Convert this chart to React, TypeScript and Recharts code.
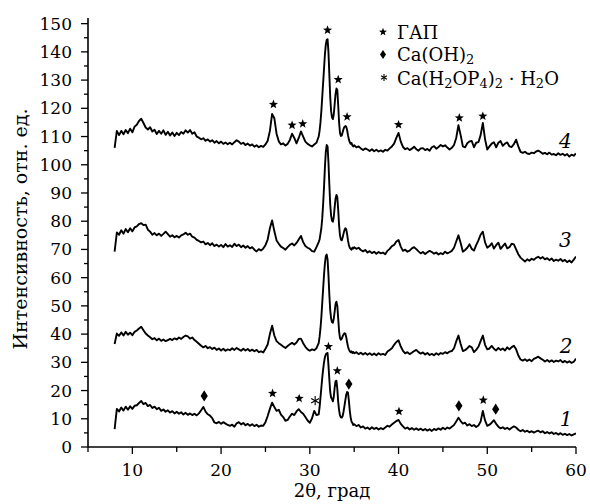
import React from 'react';
import { LineChart, Line, XAxis, YAxis, ReferenceDot, Customized, Label } from 'recharts';

if (typeof document !== 'undefined') document.body.style.margin = '0';

const FONT = '"DejaVu Serif", "Liberation Serif", serif';

// 2θ grid shared by all four patterns (deg)
const TWO_THETA = [
  8, 8.25, 8.5, 8.75, 9, 9.25, 9.5, 9.75,
  10, 10.25, 10.5, 10.75, 11, 11.25, 11.5, 11.75,
  12, 12.25, 12.5, 12.75, 13, 13.25, 13.5, 13.75,
  14, 14.25, 14.5, 14.75, 15, 15.25, 15.5, 15.75,
  16, 16.25, 16.5, 16.75, 17, 17.25, 17.5, 17.75,
  18, 18.25, 18.5, 18.75, 19, 19.25, 19.5, 19.75,
  20, 20.25, 20.5, 20.75, 21, 21.25, 21.5, 21.75,
  22, 22.25, 22.5, 22.75, 23, 23.25, 23.5, 23.75,
  24, 24.25, 24.5, 24.75, 25, 25.25, 25.5, 25.75,
  26, 26.25, 26.5, 26.75, 27, 27.25, 27.5, 27.75,
  28, 28.25, 28.5, 28.75, 29, 29.25, 29.5, 29.75,
  30, 30.25, 30.5, 30.75, 31,
  31.1, 31.2, 31.3, 31.4, 31.5, 31.6, 31.7, 31.8, 31.9,
  32, 32.1, 32.2, 32.3, 32.4, 32.5, 32.6, 32.7, 32.8, 32.9,
  33, 33.1, 33.2, 33.3, 33.4, 33.5, 33.6, 33.7, 33.8, 33.9,
  34, 34.1, 34.2, 34.3, 34.4, 34.5, 34.6, 34.7, 34.8, 34.9, 35,
  35.25, 35.5, 35.75,
  36, 36.25, 36.5, 36.75, 37, 37.25, 37.5, 37.75,
  38, 38.25, 38.5, 38.75, 39, 39.25, 39.5, 39.75,
  40, 40.25, 40.5, 40.75, 41, 41.25, 41.5, 41.75,
  42, 42.25, 42.5, 42.75, 43, 43.25, 43.5, 43.75,
  44, 44.25, 44.5, 44.75, 45, 45.25, 45.5, 45.75,
  46, 46.25, 46.5, 46.75, 47, 47.25, 47.5, 47.75,
  48, 48.25, 48.5, 48.75, 49, 49.25, 49.5, 49.75,
  50, 50.25, 50.5, 50.75, 51, 51.25, 51.5, 51.75,
  52, 52.25, 52.5, 52.75, 53, 53.25, 53.5, 53.75,
  54, 54.25, 54.5, 54.75, 55, 55.25, 55.5, 55.75,
  56, 56.25, 56.5, 56.75, 57, 57.25, 57.5, 57.75,
  58, 58.25, 58.5, 58.75, 59, 59.25, 59.5, 59.75,
  60,
];

// intensity, curve 1 (bottom)
const TRACE_1 = [
  6.3, 13.5, 12.6, 14, 12.9, 14.3, 13.2, 14.4,
  13.5, 14.6, 14.8, 15.6, 16.3, 15.2, 15.6, 14.5,
  14.9, 13.8, 14.3, 13.4, 13.9, 12.8, 13.3, 12.5,
  13, 12.2, 12.7, 11.9, 12.5, 11.8, 12.3, 11.5,
  12.1, 11.4, 11.9, 11.3, 11.8, 11.2, 11.9, 13,
  14.2, 12.5, 11.6, 11.1, 10.2, 8.7, 8.4, 8.9,
  8.2, 8.8, 8.3, 7.8, 7.5, 7.9, 7.2, 8.4,
  8.8, 8, 8.5, 7.7, 8.2, 7.5, 8.1, 7.4,
  7.9, 7.2, 7.6, 7.5, 8.8, 11, 13.5, 15.7,
  14.2, 12.8, 13.2, 11.5, 10.6, 9.3, 9.6, 10.8,
  11.8, 11.3, 12.6, 13.4, 12.4, 11.8, 10.6, 9.4,
  8.6, 10.2, 12.8, 11.3, 11.6,
  14, 17.5, 21, 24.5, 27.5, 30, 31.8, 32.8, 33.2,
  33.3, 29, 24, 19.5, 17.5, 17, 16.2, 17.8, 21, 23.3,
  23.5, 20.5, 16, 13, 11.2, 10.5, 10.4, 11, 12.5, 14.5,
  16.5, 18.5, 19.5, 19.3, 16.5, 13, 10.5, 9, 8.5, 7.8, 8.1,
  7.4, 7.8, 6.9,
  7.3, 6.5, 6.9, 6.3, 7, 6.4, 6.8, 6.2,
  6.7, 6.3, 6.9, 7.5, 7.2, 8, 8.6, 9.2,
  9.6, 8.2, 7.3, 6.5, 6.9, 6.2, 6.7, 6.1,
  6.6, 6, 6.5, 5.9, 6.4, 5.8, 6.3, 5.7,
  6.4, 6, 6.6, 6.1, 6.8, 6.3, 6.9, 6.5,
  7.2, 7.8, 9, 10.4, 9.2, 8.3, 8.6, 7.6,
  8.1, 7.4, 7.8, 7.1, 7.6, 9, 12.8, 9.4,
  7.5, 7.9, 8.6, 9.5, 8.2, 7.2, 6.6, 7,
  6.4, 6.8, 6.2, 6.8, 7.3, 6.9, 6.1, 5.6,
  6, 5.4, 5.8, 5.2, 5.6, 5.1, 5.5, 5.8,
  5.2, 5.6, 4.9, 5.3, 4.8, 5.2, 4.6, 5,
  4.4, 4.9, 4.3, 4.7, 4.2, 4.6, 4.1, 4.5,
  4.8,
];

const TRACE_2 = [
  36.5, 40.2, 39.4, 40.6, 39.5, 40.8, 39.8, 40.5,
  39.6, 40.8, 41.3, 42, 42.6, 41.4, 40.2, 39.5,
  38.9, 38.2, 38.6, 37.8, 38.4, 37.6, 38.1, 37.5,
  37.9, 38.3, 37.9, 38.5, 38.1, 38.8, 38.3, 39,
  39.5, 39.2, 38.4, 38.8, 37.9, 37.3, 36.6, 35.9,
  35.3, 35.8, 35, 35.4, 34.7, 35.2, 34.4, 34.9,
  34.2, 34.8, 34.1, 34.6, 34.3, 35, 34.4, 35.1,
  34.6, 34.1, 34.8, 34.2, 34.7, 34, 34.5, 33.9,
  34.4, 33.6, 33.9, 33.5, 34.8, 36.3, 40, 43,
  39.5, 37.5, 36.8, 36.2, 35.6, 35.1, 35.8, 36.4,
  36.9, 36.3, 37, 38.3, 38.4, 36.8, 35.5, 34.6,
  34.1, 34.6, 34.3, 35, 36.8,
  39, 42, 46, 51, 56, 61, 65, 67.5, 68.2,
  66.5, 61, 54, 48.5, 45.5, 44.2, 44, 45.5, 48, 50.6,
  51.5, 50, 45.5, 41, 38.6, 38, 38.4, 39.2, 39.9, 40.3,
  40.2, 39, 37.2, 35.6, 34.6, 34, 33.6, 33.9, 33.3, 33.7, 33.2,
  33.6, 32.9, 33.4,
  32.8, 33.3, 32.7, 33.2, 32.6, 33.1, 32.5, 33.2,
  32.7, 33, 32.6, 33.8, 34.4, 35, 36.2, 37.2,
  37.8, 35.6, 34.1, 33.2, 33.6, 32.9, 33.4, 34,
  34.4, 33.6, 33.1, 33.5, 32.8, 33.3, 32.6, 33,
  32.5, 33.2, 32.7, 33.3, 33, 33.6, 33.2, 33.8,
  34, 35, 37.4, 39.5, 36.5, 34, 34.3, 35,
  35.8, 35.3, 33.6, 34.4, 35.5, 37.5, 39.5, 36.2,
  34.6, 34.9, 35.8, 34.8, 34.2, 35.1, 34.4, 34.9,
  34.2, 35.3, 34.6, 35.4, 35.9, 34.6, 32.4, 31,
  30.6, 31.1, 30.5, 31, 30.4, 31.2, 31.6, 32,
  31.4, 30.9, 30.3, 30.8, 30.2, 30.7, 30.1, 30.6,
  30.3, 30.8, 30, 30.5, 29.9, 30.4, 29.8, 30.2,
  31.3,
];

const TRACE_3 = [
  69.2, 76, 75.2, 76.8, 75.6, 77.2, 76.1, 77.5,
  76.4, 77.8, 78.2, 79, 79.3, 78.6, 78.8, 77,
  76.3, 75.2, 75.8, 75, 75.6, 74.8, 75.5, 76.3,
  75.4, 74.5, 75, 74.3, 74.8, 74.2, 75, 75.3,
  75.9, 75.2, 75.6, 74.5, 74.2, 73.4, 73, 72.5,
  72.8, 71.8, 72.3, 71.5, 72.2, 71.2, 71.7, 71,
  71.6, 70.8, 71.9, 71, 71.5, 70.9, 72, 71.2,
  71.7, 70.8, 71.4, 70.6, 71.2, 70.4, 70.8, 69.9,
  69.3, 70.1, 69.6, 70.3, 71.5, 73.5, 77.5, 80.3,
  76.5, 73.2, 72, 71, 70.5, 69.9, 70.8, 71.6,
  72.1, 71.4, 72.3, 73.5, 74.8, 72.6, 71.2, 70.6,
  70.2, 69.4, 69.2, 70.8, 72.6,
  73.5, 75.5, 77.5, 81, 86, 92, 99, 104.5, 107,
  106.5, 101, 93, 86, 82, 80.2, 79.8, 81.5, 85, 88,
  89.3, 88.5, 84, 78.5, 75, 73.5, 73.2, 74.2, 75.6, 76.8,
  77.5, 77.2, 75.5, 73.2, 71.6, 70.6, 70.2, 69.9, 70.6, 70.3, 70.8,
  70.2, 70.6, 69.8,
  69.3, 69.8, 68.9, 69.4, 68.7, 69.2, 68.5, 69.1,
  68.6, 68.9, 68.3, 69.5, 70.2, 71.2, 71.6, 72.8,
  73.3, 71, 69.5, 69.9, 69.2, 69.6, 70.4, 70.8,
  70.1, 69.3, 68.6, 69.1, 68.4, 69, 69.5, 69.1,
  68.5, 68.9, 68.2, 68.7, 68.3, 69.2, 68.6, 69,
  69.5, 70.6, 72.8, 75, 72.3, 69.2, 69.8, 70.6,
  71.8, 70.2, 69.6, 71.5, 73.2, 75.2, 76.3, 72.5,
  70.6, 71.2, 72.2, 70.3, 71.5, 72.4, 70.2, 71.2,
  72.1, 70.4, 70.8, 72, 71.8, 70, 68.3, 67.1,
  66.4, 65.7, 66.5, 66, 66.7, 66.3, 67, 67.4,
  66.8, 67.3, 66.5, 66.9, 66.2, 66.8, 65.9, 66.4,
  66, 66.6, 65.8, 66.3, 65.5, 66.1, 65.4, 66.4,
  67.5,
];

const TRACE_4 = [
  106, 112, 110.5, 112, 110.8, 112.3, 111.2, 112.8,
  111.5, 113.5, 114.2, 115.5, 116.3, 114.8, 113.2, 112.5,
  113.3, 111.8, 112.4, 110.9, 112, 111, 112.2, 110.6,
  111.7, 110.4, 111.4, 110.2, 111.3, 110.5, 111.6, 111,
  112.2, 111.4, 112.3, 111, 111.5, 110, 109.6, 109,
  109.4, 108.5, 109, 108.2, 108.7, 107.8, 108.4, 107.6,
  108.2, 107.4, 107.9, 107.3, 107.8, 107.2, 108, 108.7,
  108.2, 107.4, 107.8, 107, 107.5, 106.8, 107.2, 106.4,
  106.9, 106.2, 106.7, 106.3, 107.2, 108.5, 112, 118,
  116.5, 111, 108.3, 107.2, 107.6, 106.8, 107.4, 108.8,
  111, 109.5, 107.6, 109.5, 111.8, 110, 108.2, 107.4,
  106.9, 106.5, 107.2, 107.8, 110,
  112, 115, 119, 124, 129, 134, 139, 142.5, 144.2,
  144.5, 140, 132, 124, 119, 116.8, 116.2, 117.8, 121.5, 125,
  127, 126.5, 121, 115, 111.3, 110.2, 110.4, 111.5, 112.7, 113.4,
  113.7, 113.5, 112.4, 110.5, 109, 108, 107.4, 107.7, 106.9, 106.5, 106.9,
  106.2, 106.5, 105.8,
  105.2, 105.8, 105.4, 104.9, 105.5, 104.8, 105.3, 104.7,
  105.1, 104.6, 105.3, 105, 105.8, 106.5, 107.5, 109.5,
  111.3, 108.2, 106.3, 105.5, 105.9, 105.2, 105.7, 106.4,
  105.5, 105, 105.8, 105.9, 105.2, 105.6, 105, 106.2,
  106.6, 105.7, 106.3, 107, 106.5, 106.9, 106.1, 105.4,
  106, 107, 109.5, 114, 110.5, 106.5, 106.2, 107.6,
  108.3, 108.4, 106.2, 107.8, 108, 110.5, 114.8, 109,
  105.4, 106.5, 107.5, 108, 106.2, 107.8, 108.4, 106.7,
  107.5, 107.9, 106.5, 106.3, 107.3, 108.9, 106.5, 104.6,
  104.2, 104.6, 104, 103.8, 104.3, 104.1, 104.7, 105,
  104.5, 103.9, 104.2, 103.7, 104.3, 103.6, 103.8, 103.4,
  104.1, 103.5, 103.9, 103.3, 103.8, 102.9, 103.6, 103.2,
  104,
];

// phase markers: position (2θ) and height (intensity units)
const HAP_X = [25.9, 28.0, 29.2, 32.0, 33.2, 34.2, 40.0, 46.85, 49.5, 25.8, 28.8, 32.1, 33.1, 40.05, 49.55];
const HAP_Y = [121.4, 114, 114.5, 147.7, 130.2, 117, 114.2, 116.6, 117.2, 19, 17.2, 35.6, 27, 12.6, 16.6];
const CAOH_X = [18.1, 34.4, 46.8, 50.95];
const CAOH_Y = [18.1, 22.3, 14.6, 13.4];
const MCP_X = [30.6];
const MCP_Y = [16.4];

const CURVE_NAMES = ['1', '2', '3', '4'];
const CURVE_NAME_X = [58.9, 58.9, 58.8, 58.8];
const CURVE_NAME_Y = [10, 35.9, 73.3, 108.3];

const Y_TICKS = [0, 5, 10, 15, 20, 25, 30, 35, 40, 45, 50, 55, 60, 65, 70, 75, 80, 85, 90, 95, 100, 105, 110, 115, 120, 125, 130, 135, 140, 145, 150];
const X_TICKS = [5, 10, 15, 20, 25, 30, 35, 40, 45, 50, 55, 60];

const TRACES = [TRACE_1, TRACE_2, TRACE_3, TRACE_4];

function starPath(cx: number, cy: number, R: number) {
  const r = R * 0.42;
  let d = '';
  for (let i = 0; i < 10; i++) {
    const a = -Math.PI / 2 + (i * Math.PI) / 5;
    const rr = i % 2 === 0 ? R : r;
    d += (i === 0 ? 'M' : 'L') + (cx + rr * Math.cos(a)).toFixed(2) + ',' + (cy + rr * Math.sin(a)).toFixed(2);
  }
  return d + 'Z';
}

const Star = ({ cx, cy, R = 4.8 }: any) => <path d={starPath(cx, cy, R)} fill="#000" />;
const Diamond = ({ cx, cy, w = 3.6, h = 5.6 }: any) => (
  <path d={`M${cx},${cy - h}L${cx + w},${cy}L${cx},${cy + h}L${cx - w},${cy}Z`} fill="#000" />
);
const Asterisk = ({ cx, cy, R = 4.6 }: any) => (
  <g stroke="#000" strokeWidth={1.1}>
    {[90, 30, 150].map((deg) => {
      const a = (deg * Math.PI) / 180;
      return (
        <line key={deg} x1={cx - R * Math.cos(a)} y1={cy - R * Math.sin(a)} x2={cx + R * Math.cos(a)} y2={cy + R * Math.sin(a)} />
      );
    })}
  </g>
);

const YTick = ({ x, y, payload }: any) => {
  const major = payload.value % 10 === 0;
  return (
    <g>
      <line x1={x - (major ? 7 : 4)} x2={x} y1={y} y2={y} stroke="#000" strokeWidth={1.3} />
      {major && (
        <text x={x - 16} y={y} dy={6} textAnchor="end" fontSize={17} fontFamily={FONT} fill="#000">
          {payload.value}
        </text>
      )}
    </g>
  );
};

const XTick = ({ x, y, payload }: any) => {
  const major = payload.value % 10 === 0;
  return (
    <g>
      <line x1={x} x2={x} y1={y} y2={y + (major ? 7 : 5)} stroke="#000" strokeWidth={1.3} />
      {major && (
        <text x={x} y={y + 29} textAnchor="middle" fontSize={17} fontFamily={FONT} fill="#000">
          {payload.value}
        </text>
      )}
    </g>
  );
};

const LegendBlock = () => (
  <g fontFamily={FONT} fontSize={18} fill="#000">
    <Star cx={383} cy={32} R={4.2} />
    <text x={397} y={39}>ГАП</text>
    <Diamond cx={383} cy={54.5} w={3} h={4.6} />
    <text x={397} y={61}>
      Ca(OH)<tspan dy={3} fontSize={13}>2</tspan>
    </text>
    <Asterisk cx={384} cy={77.5} R={3.4} />
    <text x={397} y={84.5}>
      Ca(H<tspan dy={3} fontSize={13}>2</tspan>
      <tspan dy={-3}>OP</tspan>
      <tspan dy={3} fontSize={13}>4</tspan>
      <tspan dy={-3}>)</tspan>
      <tspan dy={3} fontSize={13}>2</tspan>
      <tspan dy={-3}> · H</tspan>
      <tspan dy={3} fontSize={13}>2</tspan>
      <tspan dy={-3}>O</tspan>
    </text>
  </g>
);

export default function App() {
  return (
    <LineChart width={590} height={504} margin={{ top: 18, right: 14, left: 0, bottom: 0 }}>
      <XAxis
        type="number"
        dataKey="x"
        domain={[5, 60]}
        ticks={X_TICKS}
        interval={0}
        height={57}
        tickSize={0}
        tickMargin={0}
        tickLine={false}
        tick={<XTick />}
        axisLine={{ stroke: '#000', strokeWidth: 1.6 }}
        allowDataOverflow
      >
        <Label
          content={() => (
            <text x={332} y={497} textAnchor="middle" fontSize={18} fontFamily={FONT} fill="#000">
              2θ, град
            </text>
          )}
        />
      </XAxis>
      <YAxis
        type="number"
        domain={[0, 152]}
        ticks={Y_TICKS}
        interval={0}
        width={88}
        tickSize={0}
        tickMargin={0}
        tickLine={false}
        tick={<YTick />}
        axisLine={{ stroke: '#000', strokeWidth: 1.6 }}
        allowDataOverflow
      >
        <Label
          content={() => (
            <text
              x={20}
              y={229}
              transform="rotate(-90 20 229)"
              textAnchor="middle"
              dominantBaseline="central"
              fontSize={19}
              fontFamily={FONT}
              fill="#000"
            >
              Интенсивность, отн. ед.
            </text>
          )}
        />
      </YAxis>
      {TRACES.map((tr, k) => (
        <Line
          key={k}
          data={TWO_THETA.map((x, i) => ({ x, y: tr[i] }))}
          dataKey="y"
          stroke="#000"
          strokeWidth={1.9}
          strokeLinejoin="round"
          dot={false}
          activeDot={false}
          isAnimationActive={false}
        />
      ))}
      {HAP_X.map((x, i) => (
        <ReferenceDot key={'h' + i} x={x} y={HAP_Y[i]} r={0} ifOverflow="visible" shape={(p: any) => <Star cx={p.cx} cy={p.cy} />} />
      ))}
      {CAOH_X.map((x, i) => (
        <ReferenceDot key={'c' + i} x={x} y={CAOH_Y[i]} r={0} ifOverflow="visible" shape={(p: any) => <Diamond cx={p.cx} cy={p.cy} />} />
      ))}
      {MCP_X.map((x, i) => (
        <ReferenceDot key={'m' + i} x={x} y={MCP_Y[i]} r={0} ifOverflow="visible" shape={(p: any) => <Asterisk cx={p.cx} cy={p.cy} />} />
      ))}
      {CURVE_NAMES.map((name, i) => (
        <ReferenceDot
          key={'n' + i}
          x={CURVE_NAME_X[i]}
          y={CURVE_NAME_Y[i]}
          r={0}
          ifOverflow="visible"
          shape={(p: any) => (
            <text x={p.cx} y={p.cy} textAnchor="middle" dominantBaseline="central" fontSize={20} fontStyle="italic" fontFamily={FONT} fill="#000">
              {name}
            </text>
          )}
        />
      ))}
      <Customized component={LegendBlock} />
    </LineChart>
  );
}
